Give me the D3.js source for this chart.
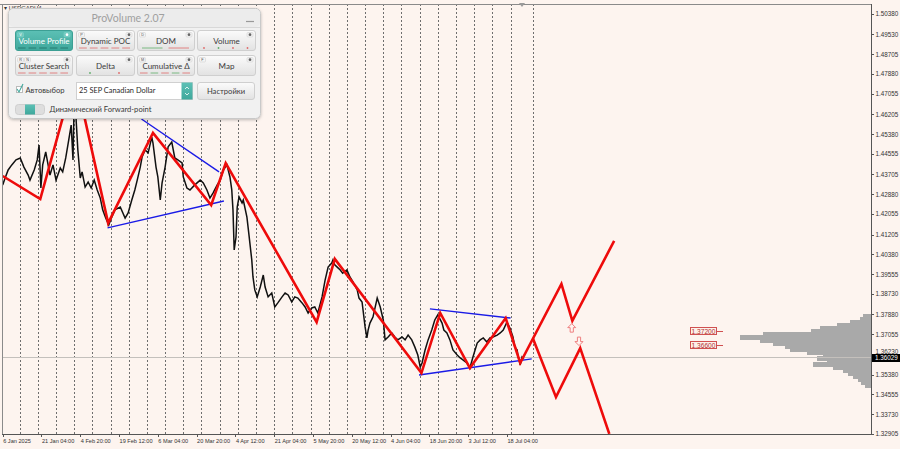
<!DOCTYPE html>
<html><head><meta charset="utf-8">
<script src="https://cdn.jsdelivr.net/npm/d3@7"></script>
<style>body{margin:0;background:#fdf4ef;} svg{display:block;}</style>
</head><body><svg id="c" width="900" height="449"></svg>
<script>
// ---------- DATA ----------
const priceBars = [0,4,9,15,22,29,35,42,45,52,57,60,63,66,71,78,83,88,95,99,
 104,109,113,116,118,121,124,128,131,136,141,146,151,156,161,165,170,175,180,185,
 194,202,207,213,218,222,227,230,235,240,246,248,253,256,260,263,268,273,279,284,
 289,296,298,304,309,317,326,331,337,342,347,354,359,364,370,375,378,380,382,385,
 387,390,395,397,403,406,411,413,416,420,425,430,433,438,444,449,454,461,466,471,
 477,482,487,494,499,504,510,515,520,527,532,537,543,545,548,552,557,561,568,573,
 578,585,588,593,598,601,603,606,611,618,623,628,631,636,642,647,652,659,664,669,
 675,680,685,689,692,697,702,708,713,718,725,728,733,738,743,750,755,760,766,771,
 776,783,788,793,799,804,809,816,821,826,832,837,842,845,849,850,854,857,860];
const priceClose = [1.4327,1.4356,1.4389,1.4410,1.4431,1.4439,1.4401,1.4368,1.4347,1.4389,
 1.4431,1.4493,1.4314,1.4410,1.4464,1.4368,1.4410,1.4347,1.4397,1.4381,
 1.4439,1.4514,1.4576,1.4431,1.4680,1.4605,1.4472,1.4356,1.4381,1.4318,
 1.4339,1.4314,1.4347,1.4306,1.4272,1.4223,1.4189,1.4160,1.4193,1.4223,
 1.4235,1.4189,1.4210,1.4264,1.4306,1.4347,1.4401,1.4443,1.4472,1.4460,
 1.4526,1.4501,1.4401,1.4360,1.4264,1.4335,1.4401,1.4485,1.4505,1.4439,
 1.4431,1.4418,1.4360,1.4314,1.4306,1.4327,1.4347,1.4335,1.4306,1.4272,
 1.4293,1.4327,1.4347,1.4389,1.4410,1.4360,1.4306,1.4223,1.4056,1.4110,
 1.4235,1.4277,1.4252,1.4264,1.4193,1.4127,1.4015,1.3944,1.3890,1.3861,
 1.3902,1.3952,1.3902,1.3861,1.3877,1.3819,1.3836,1.3861,1.3877,1.3869,
 1.3840,1.3861,1.3856,1.3836,1.3819,1.3794,1.3815,1.3819,1.3794,1.3861,
 1.3931,1.3985,1.4002,1.4015,1.3994,1.3985,1.3973,1.3960,1.3973,1.3944,
 1.3923,1.3890,1.3856,1.3840,1.3736,1.3690,1.3723,1.3752,1.3777,1.3856,
 1.3819,1.3765,1.3682,1.3694,1.3711,1.3694,1.3682,1.3694,1.3682,1.3702,
 1.3682,1.3653,1.3619,1.3569,1.3586,1.3640,1.3682,1.3723,1.3765,1.3786,
 1.3752,1.3723,1.3711,1.3682,1.3640,1.3619,1.3607,1.3598,1.3586,1.3565,
 1.3611,1.3669,1.3682,1.3690,1.3673,1.3690,1.3694,1.3702,1.3711,1.3723,
 1.3756,1.3731,1.3694,1.3653,1.3640,1.3619,1.3578,1.3611,1.3603];

// red zigzag + forecast path A
const zigBars   = [0,62,119,174,248,344,368,518,548,691,722,771,830,854,922,940,1009];
const zigPrices = [1.4364,1.4268,1.4788,1.4168,1.4543,1.4243,1.4418,1.3756,1.4019,1.3544,1.3794,1.3565,1.3773,1.3586,1.3915,1.3761,1.4094];
// forecast path B
const fcBars   = [875,913,953,1001];
const fcPrices = [1.3688,1.3444,1.3648,1.3291];

// blue trend lines (start bar, start price, end bar, end price)
const trendStartBars   = [229,173,705,687];
const trendStartPrices = [1.4601,1.4148,1.3811,1.3536];
const trendEndBars     = [357,365,838,873];
const trendEndPrices   = [1.4381,1.4260,1.3773,1.3603];

// arrows
const arrowBars   = [939,951];
const arrowPrices = [1.3731,1.3677];
const arrowDirs   = ["up","down"];

// level labels
const levelValues = [1.37200,1.36600];
const levelLabels = ["1.37200","1.36600"];

// volume profile
const profilePrices  = [1.37835,1.3771,1.37585,1.3746,1.37335,1.3721,1.37085,1.3696,1.36835,1.3671,1.36585,1.3646,
                        1.36335,1.3621,1.36085,1.3596,1.35835,1.3571,1.35585,1.3546,1.35335,1.3521,1.35085,1.3496];
const profileVolumes = [80,110,210,340,510,600,1080,1310,1110,980,860,810,640,480,540,440,580,380,280,230,180,130,100,60];

const currentPrice = 1.36029;
const yTickValues = [1.50380,1.49530,1.48705,1.47880,1.47055,1.46205,1.45380,1.44555,1.43705,1.42880,1.42055,
                     1.41205,1.40380,1.39555,1.38730,1.37880,1.37055,1.36230,1.35380,1.34555,1.33730,1.32905];
const xTickBars   = [0,64,128,192,256,320,384,448,512,576,640,704,768,832];
const xTickLabels = ["6 Jan 2025","21 Jan 04:00","4 Feb 20:00","19 Feb 12:00","6 Mar 04:00","20 Mar 20:00",
                     "4 Apr 12:00","21 Apr 04:00","5 May 20:00","20 May 12:00","4 Jun 04:00","18 Jun 20:00",
                     "3 Jul 12:00","18 Jul 04:00"];

// ---------- LAYOUT ----------
const L = 2, R = 871, T = 4, B = 434;
const svg = d3.select("#c");
const x = d3.scaleLinear().domain([0,1430]).range([2.7, 2.7+1430*0.606]);
const y = d3.scaleLinear().domain([1.32905,1.50380]).range([B,14]);
const AX = "Liberation Sans, Arial, sans-serif";

svg.append("rect").attr("width",900).attr("height",449).attr("fill","#fdf4ef");
svg.append("defs").append("clipPath").attr("id","plot")
  .append("rect").attr("x",L).attr("y",T).attr("width",R-L).attr("height",B-T);

const plot = svg.append("g").attr("clip-path","url(#plot)");

// weekly dotted grid
const gridBars = d3.range(28, 850, 30).concat([875]);
plot.selectAll("line.grid").data(gridBars).join("line")
  .attr("x1",d=>Math.round(x(d))+0.5).attr("x2",d=>Math.round(x(d))+0.5)
  .attr("y1",T).attr("y2",B).attr("stroke","#6e6e6e").attr("stroke-width",1)
  .attr("stroke-dasharray","2,2");

// volume profile
const vScale = d3.scaleLinear().domain([0, d3.max(profileVolumes)]).range([0,131]);
const half = 0.000625;
plot.selectAll("rect.vp").data(profilePrices).join("rect")
  .attr("x",(d,i)=>Math.round(R - vScale(profileVolumes[i])))
  .attr("width",(d,i)=>Math.round(vScale(profileVolumes[i]))+1)
  .attr("y",d=>Math.floor(y(d+half)))
  .attr("height",d=>Math.ceil(y(d-half))-Math.floor(y(d+half))+0.5)
  .attr("fill","#a9a9a9").attr("shape-rendering","crispEdges");

// current price line
const cpY = Math.round(y(currentPrice)) - 1;
plot.append("line").attr("x1",L).attr("x2",R)
  .attr("y1",cpY-0.5).attr("y2",cpY-0.5)
  .attr("stroke","#c4c0bc").attr("stroke-width",1);

// price series
const line = d3.line().x(d=>x(d[0])).y(d=>y(d[1]));
plot.append("path").datum(priceBars.map((b,i)=>[b,priceClose[i]]))
  .attr("d",line).attr("fill","none").attr("stroke","#111").attr("stroke-width",1.5)
  .attr("stroke-linejoin","miter");

// blue trend lines
plot.selectAll("line.trend").data(trendStartBars).join("line")
  .attr("x1",(d,i)=>x(d)).attr("y1",(d,i)=>y(trendStartPrices[i]))
  .attr("x2",(d,i)=>x(trendEndBars[i])).attr("y2",(d,i)=>y(trendEndPrices[i]))
  .attr("stroke","#1a1ae6").attr("stroke-width",1.4);

// red zigzag
plot.append("path").datum(zigBars.map((b,i)=>[b,zigPrices[i]]))
  .attr("d",line).attr("fill","none").attr("stroke","#ee0b0b").attr("stroke-width",2.6)
  .attr("stroke-linejoin","miter");
plot.append("path").datum(fcBars.map((b,i)=>[b,fcPrices[i]]))
  .attr("d",line).attr("fill","none").attr("stroke","#ee0b0b").attr("stroke-width",2.6)
  .attr("stroke-linejoin","miter");

// arrows
const upPath = "M0,-4.5 L4,-0.5 L1.6,-0.5 L1.6,4 L-1.6,4 L-1.6,-0.5 L-4,-0.5 Z";
plot.selectAll("path.arrow").data(arrowBars).join("path")
  .attr("d",upPath)
  .attr("transform",(d,i)=>`translate(${x(d)},${y(arrowPrices[i])}) rotate(${arrowDirs[i]==="up"?0:180})`)
  .attr("fill","#fff4f0").attr("stroke","#ee8080").attr("stroke-width",1);

// level labels
const lv = plot.selectAll("g.lv").data(levelValues).join("g")
  .attr("transform",d=>`translate(690,${Math.round(y(d))})`);
lv.append("rect").attr("x",0.5).attr("y",-3.5).attr("width",26).attr("height",7)
  .attr("fill","#fdf0ea").attr("stroke","#d05050").attr("stroke-width",1);
lv.append("line").attr("x1",26.5).attr("x2",33).attr("y1",0.5).attr("y2",0.5)
  .attr("stroke","#d05050").attr("stroke-width",1);
lv.append("text").attr("x",13.5).attr("y",2.6).attr("text-anchor","middle")
  .attr("font-family",AX).attr("font-size",6.6).attr("fill","#b03030")
  .text((d,i)=>levelLabels[i]);

// frame
svg.append("line").attr("x1",0).attr("x2",R).attr("y1",T+0.5).attr("y2",T+0.5).attr("stroke","#8a8a8a");
svg.append("line").attr("x1",L+0.5).attr("x2",L+0.5).attr("y1",T).attr("y2",B).attr("stroke","#8a8a8a");
svg.append("line").attr("x1",R+0.5).attr("x2",R+0.5).attr("y1",T).attr("y2",B+1).attr("stroke","#555");
svg.append("line").attr("x1",L).attr("x2",R+1).attr("y1",B+0.5).attr("y2",B+0.5).attr("stroke","#555");

// y axis ticks
const yt = svg.append("g");
yt.selectAll("line").data(yTickValues).join("line")
  .attr("x1",R).attr("x2",R+3).attr("y1",d=>Math.round(y(d))+0.5).attr("y2",d=>Math.round(y(d))+0.5)
  .attr("stroke","#555");
yt.selectAll("text").data(yTickValues).join("text")
  .attr("x",R+4.5)
  .attr("y",d=>{ const yy = y(d)+2.4; return Math.abs(y(d)-y(currentPrice))<8 ? Math.min(yy, cpY-4.2) : yy; })
  .attr("font-family",AX).attr("font-size",6.3).attr("fill","#333")
  .text(d=>d.toFixed(5));

// current price box
const cp = svg.append("g").attr("transform",`translate(${R+1},${cpY})`);
cp.append("rect").attr("x",0).attr("y",-4).attr("width",28).attr("height",8).attr("fill","#000");
cp.append("text").attr("x",3).attr("y",2.4).attr("font-family",AX).attr("font-size",6.3)
  .attr("fill","#fff").text(currentPrice.toFixed(5));

// x axis ticks
const xt = svg.append("g");
xt.selectAll("line").data(xTickBars).join("line")
  .attr("x1",d=>Math.round(x(d))+0.5).attr("x2",d=>Math.round(x(d))+0.5)
  .attr("y1",B).attr("y2",B+3).attr("stroke","#555");
xt.selectAll("text").data(xTickBars).join("text")
  .attr("x",d=>x(d)+0.5).attr("y",B+9)
  .attr("font-family",AX).attr("font-size",5.6).attr("fill","#333")
  .text((d,i)=>xTickLabels[i]);

// symbol caption + shift marker
svg.append("text").attr("x",4).attr("y",10).attr("font-family",AX).attr("font-size",6)
  .attr("fill","#333").text("▾ USDCADH4");
svg.append("path").attr("d","M519,3 L525,3 L522,7 Z").attr("fill","#9a9a9a");

// ---------- ProVolume panel ----------
const UI = "Lato, 'Noto Sans', sans-serif";
const defs = svg.select("defs");
const gb = defs.append("linearGradient").attr("id","btn").attr("x1",0).attr("x2",0).attr("y1",0).attr("y2",1);
gb.append("stop").attr("offset","0%").attr("stop-color","#fbfbfb");
gb.append("stop").attr("offset","100%").attr("stop-color","#e2e2e2");
const gt = defs.append("linearGradient").attr("id","teal").attr("x1",0).attr("x2",0).attr("y1",0).attr("y2",1);
gt.append("stop").attr("offset","0%").attr("stop-color","#5cc0b5");
gt.append("stop").attr("offset","100%").attr("stop-color","#3fa89c");
const f = defs.append("filter").attr("id","sh").attr("x","-10%").attr("y","-10%").attr("width","120%").attr("height","130%");
f.append("feDropShadow").attr("dx",0).attr("dy",1).attr("stdDeviation",1.5).attr("flood-color","#000").attr("flood-opacity",0.25);

const P = svg.append("g");
P.append("rect").attr("x",8.5).attr("y",8.5).attr("width",252).attr("height",110).attr("rx",5)
  .attr("fill","#f1f1f1").attr("stroke","#c9c9c9").attr("filter","url(#sh)");
P.append("rect").attr("x",9).attr("y",9).attr("width",251).attr("height",18).attr("rx",5).attr("fill","#ececec");
P.append("line").attr("x1",9).attr("x2",260).attr("y1",27.5).attr("y2",27.5).attr("stroke","#d8d8d8");
P.append("text").attr("x",128).attr("y",22).attr("text-anchor","middle").attr("font-family",UI)
  .attr("font-size",10.5).attr("fill","#a0a0a0").text("ProVolume 2.07");
P.append("line").attr("x1",246).attr("x2",254).attr("y1",21.5).attr("y2",21.5).attr("stroke","#999").attr("stroke-width",1.2);

const buttons = [
  {x:15,y:30,w:57,t:"Volume Profile",on:true,tag:["V"],foot:"wdash"},
  {x:76,y:30,w:58,t:"Dynamic POC",tag:["P"],foot:"rdash"},
  {x:137,y:30,w:57,t:"DOM",tag:["D"],foot:"gr"},
  {x:197,y:30,w:58,t:"Volume",tag:[],foot:"dots"},
  {x:15,y:55,w:57,t:"Cluster Search",tag:["R","N"],foot:"rdash"},
  {x:76,y:55,w:58,t:"Delta",tag:[],foot:"dot2"},
  {x:137,y:55,w:57,t:"Cumulative Δ",tag:["M"],foot:"gdash"},
  {x:197,y:55,w:58,t:"Map",tag:["F"],foot:""}
];
buttons.forEach(b=>{
  const g = P.append("g").attr("transform",`translate(${b.x},${b.y})`);
  g.append("rect").attr("x",0.5).attr("y",0.5).attr("width",b.w).attr("height",20).attr("rx",2.5)
    .attr("fill",b.on?"url(#teal)":"url(#btn)").attr("stroke",b.on?"#3c9f94":"#cfcfcf");
  b.tag.forEach((t,k)=>{
    g.append("rect").attr("x",2.5+k*7).attr("y",2.5).attr("width",6).attr("height",4.5).attr("rx",1)
      .attr("fill",b.on?"#6cc8be":"#f4f4f4").attr("stroke",b.on?"#8ad6cd":"#c8c8c8").attr("stroke-width",0.5);
    g.append("text").attr("x",5.5+k*7).attr("y",6.3).attr("text-anchor","middle").attr("font-family",AX)
      .attr("font-size",3.8).attr("fill",b.on?"#fff":"#555").text(t);
  });
  g.append("rect").attr("x",b.w-8).attr("y",2.5).attr("width",6).attr("height",4.5).attr("rx",1)
    .attr("fill",b.on?"#6cc8be":"#f4f4f4").attr("stroke",b.on?"#8ad6cd":"#c8c8c8").attr("stroke-width",0.5);
  g.append("circle").attr("cx",b.w-5).attr("cy",4.7).attr("r",1.4).attr("fill",b.on?"#fff":"#666");
  g.append("text").attr("x",b.w/2+0.5).attr("y",13.8).attr("text-anchor","middle").attr("font-family",UI)
    .attr("font-size",8).attr("fill",b.on?"#fff":"#3a3a3a").text(b.t);
  const fy = 18;
  if(b.foot==="wdash"||b.foot==="rdash"||b.foot==="gdash"){
    for(let k=0;k<5;k++){
      const c = b.foot==="wdash"?"#1e6f66":(b.foot==="rdash"?"#e06a6a":(k%2?"#5fae6b":"#e06a6a"));
      g.append("line").attr("x1",3+k*(b.w-4)/5).attr("x2",3+k*(b.w-4)/5+(b.w-4)/5-3)
        .attr("y1",fy).attr("y2",fy).attr("stroke",c).attr("stroke-width",0.8);
    }
  } else if(b.foot==="gr"){
    g.append("line").attr("x1",5).attr("x2",b.w/2-3).attr("y1",fy).attr("y2",fy).attr("stroke","#5fae6b").attr("stroke-width",0.8);
    g.append("line").attr("x1",b.w/2+3).attr("x2",b.w-5).attr("y1",fy).attr("y2",fy).attr("stroke","#e06a6a").attr("stroke-width",0.8);
  } else if(b.foot==="dots"){
    ["#e06a6a","#5fae6b","#e06a6a","#e06a6a"].forEach((c,k)=>{
      g.append("circle").attr("cx",7+k*14.5).attr("cy",fy).attr("r",0.9).attr("fill",c);
    });
  } else if(b.foot==="dot2"){
    g.append("circle").attr("cx",14).attr("cy",fy).attr("r",0.9).attr("fill","#5fae6b");
    g.append("circle").attr("cx",43).attr("cy",fy).attr("r",0.9).attr("fill","#e06a6a");
  }
});

// row 3
P.append("rect").attr("x",16.5).attr("y",86.5).attr("width",6).attr("height",6).attr("fill","#fff").attr("stroke","#bbb");
P.append("path").attr("d","M17,89 L19,92 L23,84").attr("fill","none").attr("stroke","#3fa89c").attr("stroke-width",1.1);
P.append("text").attr("x",25.5).attr("y",93.2).attr("font-family",UI).attr("font-size",7.6).attr("fill","#3a3a3a").text("Автовыбор");
P.append("rect").attr("x",76.5).attr("y",82.5).attr("width",116).attr("height",17).attr("fill","#fff").attr("stroke","#d0d0d0");
P.append("rect").attr("x",181.5).attr("y",82.5).attr("width",11).attr("height",17).attr("fill","url(#teal)");
P.append("path").attr("d","M185,89 L187,87 L189,89 M185,93 L187,95 L189,93").attr("fill","none").attr("stroke","#fff").attr("stroke-width",0.8);
P.append("text").attr("x",79).attr("y",93.4).attr("font-family",UI).attr("font-size",7.4).attr("fill","#2a2a2a").text("25 SEP Canadian Dollar");
P.append("rect").attr("x",197.5).attr("y",82.5).attr("width",57).attr("height",17).attr("rx",2.5).attr("fill","url(#btn)").attr("stroke","#cfcfcf");
P.append("text").attr("x",226).attr("y",93.5).attr("text-anchor","middle").attr("font-family",UI).attr("font-size",7.6).attr("fill","#3a3a3a").text("Настройки");

// row 4
P.append("rect").attr("x",15.5).attr("y",104.5).attr("width",29).attr("height",10).attr("rx",3).attr("fill","#dedede").attr("stroke","#cfcfcf");
P.append("rect").attr("x",25).attr("y",104.5).attr("width",10).attr("height",10).attr("fill","url(#teal)");
P.append("text").attr("x",49.5).attr("y",111.8).attr("font-family",UI).attr("font-size",7.6).attr("fill","#3a3a3a").text("Динамический Forward-point");
</script></body></html>
